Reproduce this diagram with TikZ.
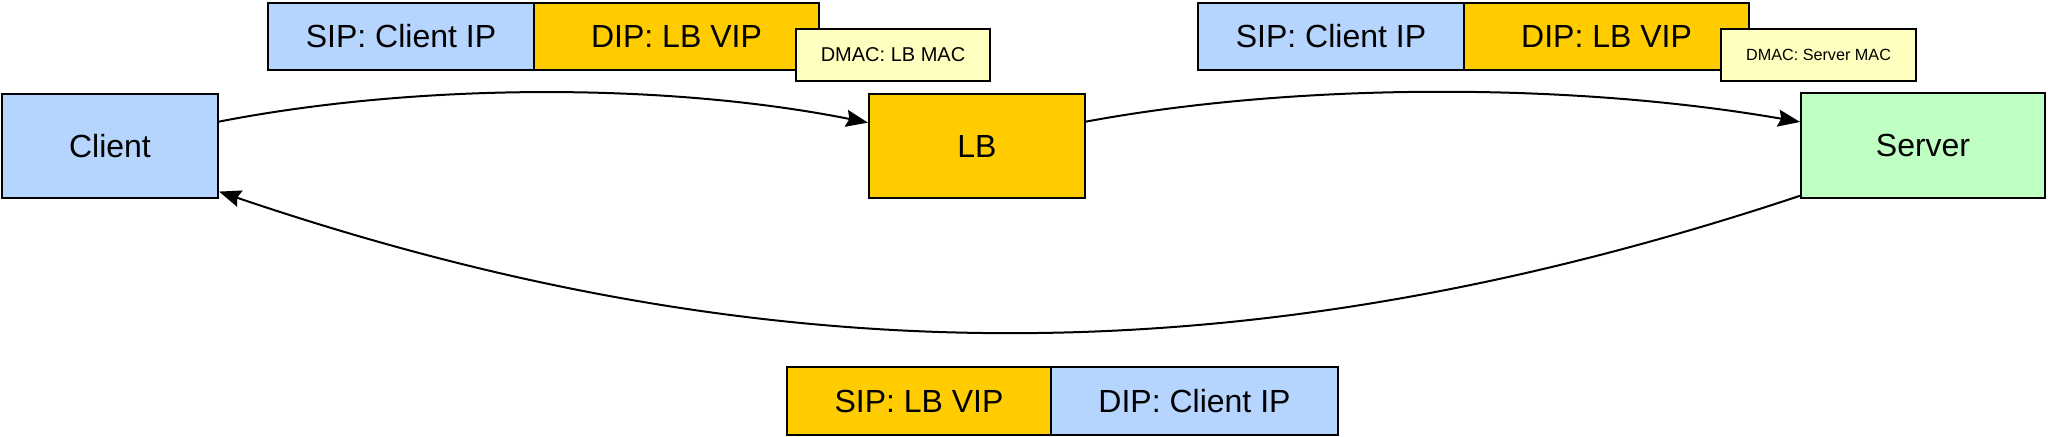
\documentclass[tikz,border=0pt]{standalone}
\usepackage{fontspec}
\setmainfont{Liberation Sans}
\usetikzlibrary{arrows.meta,calc}
\definecolor{cblue}{HTML}{B5D5FF}
\definecolor{corange}{HTML}{FFCC00}
\definecolor{cgreen}{HTML}{C0FFC4}
\definecolor{cyel}{HTML}{FFFFC0}
\tikzset{
  box/.style={draw=black, line width=1pt, rectangle, inner sep=0pt, font=\fontsize{16}{19}\selectfont},
  macbox/.style={box, fill=cyel},
  arr/.style={line width=1pt, -{Stealth[length=11pt,width=8.5pt,inset=1.5pt]}}
}
\begin{document}
\begin{tikzpicture}[x=0.5pt,y=-0.5pt]
\useasboundingbox (0,0) rectangle (2048,437);
% main nodes
\node[box, fill=cblue, minimum width=108pt, minimum height=52pt] (client) at (110,146) {Client};
\node[box, fill=corange, minimum width=108pt, minimum height=52pt] (lb) at (977,146) {LB};
\node[box, fill=cgreen, minimum width=122pt, minimum height=52.5pt] (server) at (1923,145.5) {Server};
% top-left packet
\node[box, fill=cblue, minimum width=133pt, minimum height=33.5pt] (sip1) at (401,36.5) {SIP: Client IP};
\node[box, fill=corange, minimum width=142.5pt, minimum height=33.5pt] (dip1) at (676.5,36.5) {DIP: LB VIP};
\node[macbox, minimum width=97pt, minimum height=26pt, font=\fontsize{10}{12}\selectfont] (mac1) at (893,55) {DMAC: LB MAC};
% top-right packet
\node[box, fill=cblue, minimum width=133pt, minimum height=33.5pt] (sip2) at (1331,36.5) {SIP: Client IP};
\node[box, fill=corange, minimum width=142.5pt, minimum height=33.5pt] (dip2) at (1606.5,36.5) {DIP: LB VIP};
\node[macbox, minimum width=97.5pt, minimum height=26pt, font=\fontsize{8.1}{10}\selectfont] (mac2) at (1818.5,55) {DMAC: Server MAC};
% bottom packet
\node[box, fill=corange, minimum width=132pt, minimum height=34pt] (sip3) at (919,401) {SIP: LB VIP};
\node[box, fill=cblue, minimum width=143.5pt, minimum height=34pt] (dip3) at (1194.5,401) {DIP: Client IP};
% connectors
\coordinate (c1) at ($(client.north east)!0.27!(client.south east)$);
\coordinate (l1) at ($(lb.north west)!0.28!(lb.south west)$);
\coordinate (l2) at ($(lb.north east)!0.27!(lb.south east)$);
\coordinate (s1) at ($(server.north west)!0.28!(server.south west)$);
\coordinate (s2) at ($(server.north west)!0.97!(server.south west)$);
\coordinate (c2) at ($(client.north east)!0.93!(client.south east)$);
\draw[arr] (c1) .. controls +(200,-39) and +(-200,-40) .. (l1);
\draw[arr] (l2) .. controls +(210,-39) and +(-230,-40) .. (s1);
\draw[arr] (s2) .. controls +(-550,183) and +(550,187) .. (c2);
\end{tikzpicture}
\end{document}
